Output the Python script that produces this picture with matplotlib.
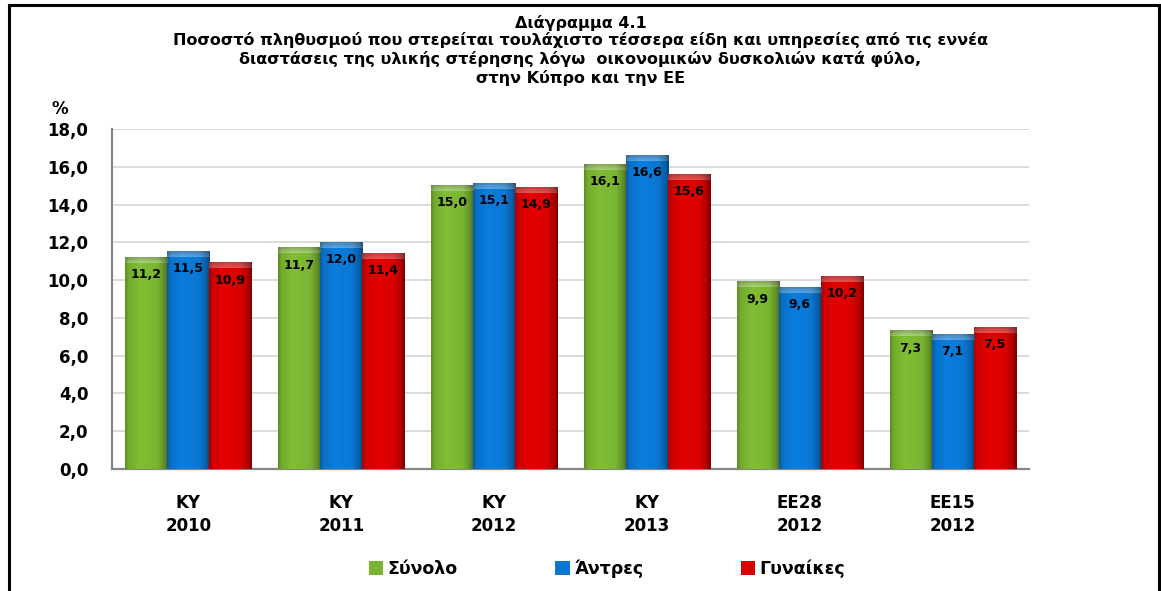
import matplotlib
matplotlib.use('Agg')
import matplotlib.pyplot as plt
import numpy as np
from matplotlib.colors import to_rgb
from matplotlib.lines import Line2D
from matplotlib.patches import Patch

# data
categories = ['KY\n2010', 'KY\n2011', 'KY\n2012', 'KY\n2013', 'EE28\n2012', 'EE15\n2012']
total = [11.2, 11.7, 15.0, 16.1, 9.9, 7.3]
men = [11.5, 12.0, 15.1, 16.6, 9.6, 7.1]
women = [10.9, 11.4, 14.9, 15.6, 10.2, 7.5]
series_names = ['Σύνολο', 'Άντρες', 'Γυναίκες']
colors = ['#7AB531', '#0A77D3', '#D90000']
yticks = np.arange(0, 18.1, 2)

title_lines = ['Διάγραμμα 4.1',
               'Ποσοστό πληθυσμού που στερείται τουλάχιστο τέσσερα είδη και υπηρεσίες από τις εννέα',
               'διαστάσεις της υλικής στέρησης λόγω  οικονομικών δυσκολιών κατά φύλο,',
               'στην Κύπρο και την ΕΕ']

fig = plt.figure(figsize=(11.61, 5.91), dpi=100)
ax = fig.add_axes([0.0965, 0.2064, 0.7898, 0.5753])


def bar_image(rgb, h_px=60, w_px=40):
    # horizontal shading: dark edges, lighter left-center
    xs = np.linspace(0, 1, w_px)
    prof = np.interp(xs, [0, 0.08, 0.35, 0.75, 0.92, 1.0], [0.78, 0.95, 1.05, 1.0, 0.8, 0.6])
    img = np.ones((h_px, w_px, 3)) * np.array(rgb)
    img = img * prof[None, :, None]
    return np.clip(img, 0, 1)


x = np.arange(len(categories))
w = 0.275
all_series = [total, men, women]
for i, (vals, col, name) in enumerate(zip(all_series, colors, series_names)):
    bars = ax.bar(x + (i - 1) * w, vals, w, color=col, zorder=2, label=name, linewidth=0)
    rgb = to_rgb(col)
    for b, v in zip(bars, vals):
        bx, bw, bh = b.get_x(), b.get_width(), b.get_height()
        ax.imshow(bar_image(rgb), extent=[bx, bx + bw, 0, bh], aspect='auto', zorder=3,
                  interpolation='bilinear')
        # light cap on top
        cap = 0.28
        cap_img = bar_image(tuple(min(1, c * 0.7 + 0.3) for c in rgb), h_px=10)
        cap_img = cap_img * np.linspace(0.8, 1.0, 10)[:, None, None]
        ax.imshow(cap_img, extent=[bx, bx + bw, bh - cap, bh], aspect='auto', zorder=4,
                  interpolation='bilinear')
        ax.text(bx + bw / 2, bh - 0.9, f'{v:.1f}'.replace('.', ','), ha='center', va='center',
                fontsize=9, fontweight='bold', color='black', zorder=5)

ax.set_xlim(-0.5, len(categories) - 0.5)
ax.set_ylim(0, 18)
ax.set_yticks(yticks)
ax.set_yticklabels([f'{t:.1f}'.replace('.', ',') for t in yticks], fontsize=12, fontweight='bold')
ax.set_xticks(x)
ax.set_xticklabels(categories, fontsize=12, fontweight='bold', linespacing=1.35)
ax.tick_params(axis='both', length=0)
ax.tick_params(axis='y', pad=17)
ax.tick_params(axis='x', pad=18)
ax.grid(axis='y', color='#D9D9D9', linewidth=1.3, zorder=0)
ax.set_axisbelow(True)
for s in ['top', 'right']:
    ax.spines[s].set_visible(False)
for s in ['left', 'bottom']:
    ax.spines[s].set_color('#868686')
    ax.spines[s].set_linewidth(1.6)

fig.text(60 / 1161, 1 - 109 / 591, '%', fontsize=12, fontweight='bold', ha='center', va='center')

# title, one line at a time
for line, ypix in zip(title_lines, [23, 40, 59, 78]):
    fig.text(0.5, 1 - ypix / 591, line, ha='center', va='center', fontsize=11.5,
             fontweight='bold')

handles = [Patch(facecolor=c, edgecolor='none') for c in colors]
fig.legend(handles, series_names, loc='center', bbox_to_anchor=(607 / 1161, 1 - 569 / 591),
           ncol=3, frameon=False, handlelength=0.85, handleheight=0.85, handletextpad=0.25,
           columnspacing=5.6, prop={'weight': 'bold', 'size': 12.5})

# outer frame
top = 1 - 5 / 591
fig.add_artist(Line2D([9 / 1161, 9 / 1161], [0, top], transform=fig.transFigure,
                      color='black', linewidth=2.2))
fig.add_artist(Line2D([9 / 1161, 1159 / 1161], [top, top], transform=fig.transFigure,
                      color='black', linewidth=2.2))
fig.add_artist(Line2D([1159 / 1161, 1159 / 1161], [0, top], transform=fig.transFigure,
                      color='black', linewidth=2.2))

fig.savefig('out.png', dpi=100)
